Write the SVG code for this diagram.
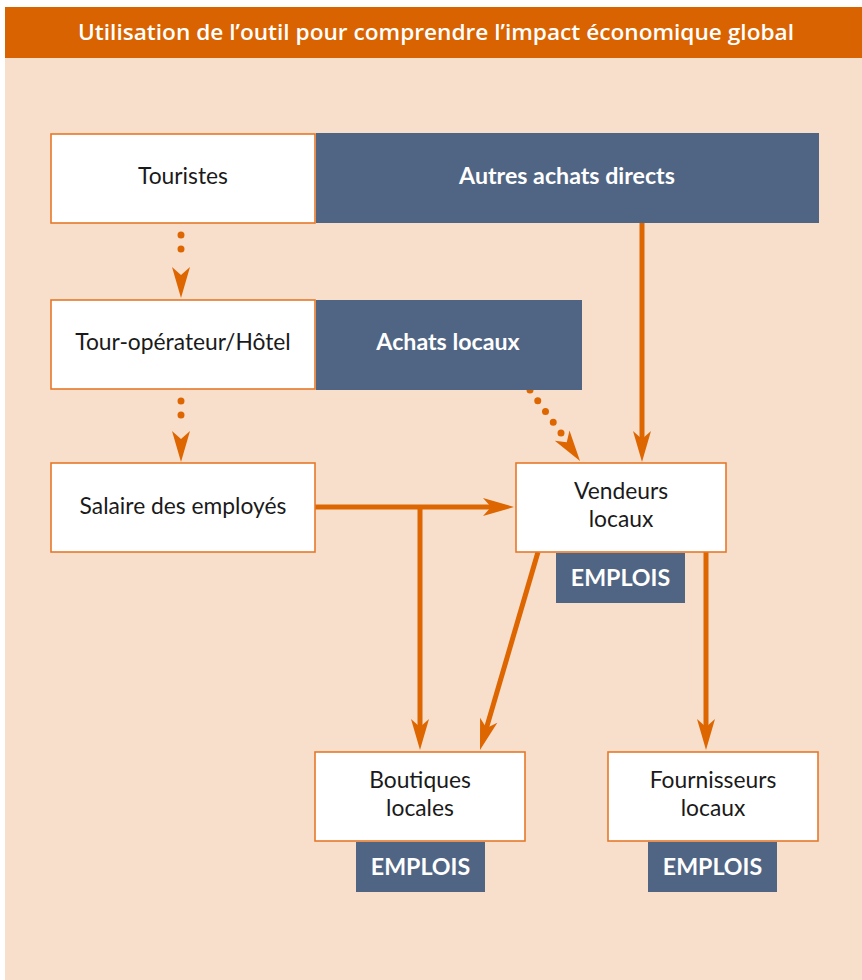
<svg xmlns="http://www.w3.org/2000/svg" width="862" height="980" viewBox="0 0 862 980">
<style>
.box{fill:#fff;stroke:#E5792A;stroke-width:1.6}
.dark{fill:#506584}
.t{font-family:Lato,"Open Sans","Liberation Sans",sans-serif;font-size:22.8px;fill:#1a1a1a;text-anchor:middle}
.b{font-family:Lato,"Open Sans","Liberation Sans",sans-serif;font-size:23.2px;font-weight:bold;fill:#fff;text-anchor:middle}
.ln{fill:none;stroke:#DE6600;stroke-width:5}
.dot{fill:none;stroke:#DE6600;stroke-width:7;stroke-linecap:round}
.hd{fill:#DE6600}
</style>
<defs>
<path id="ah" d="M0,0 L-31,-9 L-23,0 L-31,9 Z"/>
</defs>
<rect x="0" y="0" width="862" height="980" fill="#fff"/>
<rect x="5" y="7" width="857" height="51" fill="#D96300"/>
<rect x="5" y="58" width="857" height="922" fill="#F8DFCC"/>
<text x="436" y="40" font-family="'Comic Sans MS','Open Sans','Liberation Sans',sans-serif" font-size="22" font-weight="600" fill="#fff" text-anchor="middle" textLength="716" lengthAdjust="spacingAndGlyphs">Utilisation de l’outil pour comprendre l’impact économique global</text>

<g id="connectors">
<path class="dot" d="M181,235 V263" stroke-dasharray="0 14"/>
<use href="#ah" class="hd" transform="translate(181,298) rotate(90)"/>
<path class="dot" d="M181,401 V429" stroke-dasharray="0 14"/>
<use href="#ah" class="hd" transform="translate(181,462) rotate(90)"/>
<path class="dot" d="M530,390 L561,433" stroke-dasharray="0 13.25"/>
<use href="#ah" class="hd" transform="translate(580,461) rotate(54.8)"/>
<path class="ln" d="M642,223 V440"/>
<use href="#ah" class="hd" transform="translate(642,462) rotate(90)"/>
<path class="ln" d="M315,507 H492"/>
<use href="#ah" class="hd" transform="translate(514,507)"/>
<path class="ln" d="M420,505 V728"/>
<use href="#ah" class="hd" transform="translate(420,750) rotate(90)"/>
<path class="ln" d="M538,552 L486.2,728.9"/>
<use href="#ah" class="hd" transform="translate(480,750) rotate(106.3)"/>
<path class="ln" d="M706,552 V728"/>
<use href="#ah" class="hd" transform="translate(706,750) rotate(90)"/>
</g>

<g id="touristes">
<rect class="box" x="51" y="134" width="264" height="89"/>
<text class="t" x="183" y="184">Touristes</text>
</g>
<g id="autres-achats">
<rect class="dark" x="316" y="133" width="503" height="90"/>
<text class="b" x="567" y="184">Autres achats directs</text>
</g>
<g id="tour-operateur">
<rect class="box" x="51" y="300" width="264" height="89"/>
<text class="t" x="183" y="350">Tour-opérateur/Hôtel</text>
</g>
<g id="achats-locaux">
<rect class="dark" x="316" y="300" width="266" height="90"/>
<text class="b" x="448" y="350">Achats locaux</text>
</g>
<g id="salaire">
<rect class="box" x="51" y="463" width="264" height="89"/>
<text class="t" x="183" y="514">Salaire des employés</text>
</g>
<g id="vendeurs">
<rect class="box" x="516" y="463" width="210" height="89"/>
<text class="t" x="621" y="499">Vendeurs</text>
<text class="t" x="621" y="527">locaux</text>
<rect class="dark" x="556" y="553" width="129" height="50"/>
<text class="b" x="620.5" y="586">EMPLOIS</text>
</g>
<g id="boutiques">
<rect class="box" x="315" y="752" width="210" height="89"/>
<text class="t" x="420" y="788">Boutiques</text>
<text class="t" x="420" y="816">locales</text>
<rect class="dark" x="356" y="842" width="129" height="50"/>
<text class="b" x="420.5" y="875">EMPLOIS</text>
</g>
<g id="fournisseurs">
<rect class="box" x="608" y="752" width="210" height="89"/>
<text class="t" x="713" y="788">Fournisseurs</text>
<text class="t" x="713" y="816">locaux</text>
<rect class="dark" x="648" y="842" width="129" height="50"/>
<text class="b" x="712.5" y="875">EMPLOIS</text>
</g>
</svg>
